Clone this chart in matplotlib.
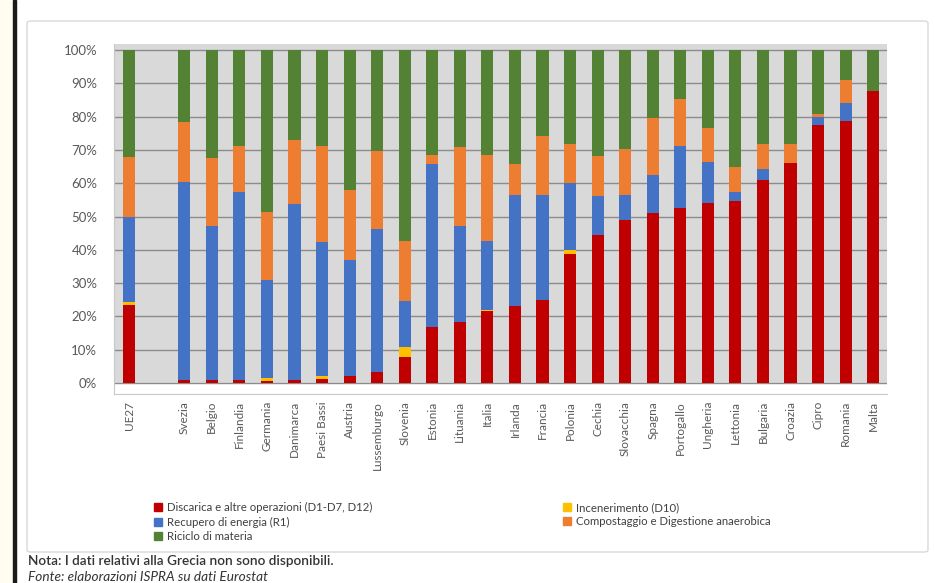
import numpy as np
import matplotlib
matplotlib.use('Agg')
import matplotlib.pyplot as plt
from matplotlib.patches import Patch, Rectangle, FancyBboxPatch

plt.rcParams['font.family'] = ['Lato', 'DejaVu Sans']

# dati (%)
paesi = ['UE27', 'Svezia', 'Belgio', 'Finlandia', 'Germania', 'Danimarca', 'Paesi Bassi',
         'Austria', 'Lussemburgo', 'Slovenia', 'Estonia', 'Lituania', 'Italia', 'Irlanda',
         'Francia', 'Polonia', 'Cechia', 'Slovacchia', 'Spagna', 'Portogallo', 'Ungheria',
         'Lettonia', 'Bulgaria', 'Croazia', 'Cipro', 'Romania', 'Malta']
posizioni = [0] + list(range(2, 28))

discarica = [23.5, 0.8, 0.8, 0.8, 0.6, 1.0, 1.2, 2.0, 3.4, 7.8, 16.7, 18.3, 21.5, 23.2,
             25.0, 38.7, 44.3, 49.0, 51.0, 52.5, 54.2, 54.7, 61.0, 66.2, 77.5, 78.6, 87.7]
incenerimento = [0.8, 0, 0, 0, 1.0, 0, 0.8, 0, 0, 3.0, 0, 0, 0.5, 0,
                 0, 1.3, 0, 0, 0, 0, 0, 0, 0, 0, 0, 0, 0]
recupero = [25.7, 59.5, 46.2, 56.6, 29.3, 52.9, 40.2, 35.0, 42.7, 13.7, 49.0, 28.7, 20.6, 33.2,
            31.4, 20.1, 11.8, 7.6, 11.5, 18.6, 12.2, 2.8, 3.2, 0, 2.4, 5.5, 0]
compostaggio = [18.0, 18.1, 20.6, 13.7, 20.6, 19.1, 28.9, 21.0, 23.5, 18.1, 2.9, 24.0, 26.0, 9.3,
                17.9, 11.8, 12.0, 13.8, 17.1, 14.2, 10.1, 7.4, 7.7, 5.7, 1.0, 6.9, 0]
riciclo = [32.0, 21.6, 32.4, 28.9, 48.5, 27.0, 28.9, 42.0, 30.4, 57.4, 31.4, 29.0, 31.4, 34.3,
           25.7, 28.1, 31.9, 29.6, 20.4, 14.7, 23.5, 35.1, 28.1, 28.1, 19.1, 9.0, 12.3]

serie = [
    ('Discarica e altre operazioni (D1-D7, D12)', discarica, '#c00000'),
    ('Incenerimento (D10)', incenerimento, '#ffc000'),
    ('Recupero di energia (R1)', recupero, '#4472c4'),
    ('Compostaggio e Digestione anaerobica', compostaggio, '#ed7d31'),
    ('Riciclo di materia', riciclo, '#548235'),
]

W, H = 935, 583
fig = plt.figure(figsize=(W / 100, H / 100), dpi=100)

# margine sinistro della pagina
fig.patches.append(Rectangle((0, 0), 13 / W, 1, transform=fig.transFigure,
                             color='#fffdf0', zorder=0))
fig.patches.append(Rectangle((13 / W, 0), 3 / W, 1, transform=fig.transFigure,
                             color='#1a1a1a', zorder=1))
# cornice del grafico
fig.patches.append(FancyBboxPatch((27 / W, 1 - 552 / H), (928 - 27) / W, (552 - 21) / H,
                                  boxstyle='round,pad=0,rounding_size=0.004',
                                  transform=fig.transFigure, facecolor='none',
                                  edgecolor='#d9d9d9', lw=1, zorder=1))

ax = fig.add_axes([114 / W, 1 - 394 / H, (887 - 114) / W, (394 - 44) / H])
ax.set_facecolor('#d9d9d9')
ax.axhspan(-3.3, 0, color='white', zorder=0.5)

x = np.array(posizioni)
base = np.zeros(len(paesi))
for nome, vals, col in serie:
    v = np.array(vals, dtype=float)
    ax.bar(x, v, bottom=base, width=0.44, color=col, zorder=3)
    base += v

ax.set_xlim(-0.55, 27.5)
ax.set_ylim(-3.3, 101.8)
ax.set_yticks(np.arange(0, 101, 10))
ax.set_yticklabels([f'{t}%' for t in range(0, 101, 10)])
ax.yaxis.grid(True, color='#8c8c8c', lw=1)
ax.set_axisbelow(True)
ax.set_xticks(x)
ax.set_xticklabels(paesi, rotation=90)
ax.tick_params(axis='y', length=0, pad=12, labelsize=9.5, labelcolor='#595959')
ax.tick_params(axis='x', length=0, pad=5, labelsize=8.5, labelcolor='#595959')
for s in ax.spines.values():
    s.set_color('#c8c8c8')
    s.set_linewidth(0.8)
ax.spines['top'].set_visible(False)
ax.spines['right'].set_visible(False)

# legenda
ordine = [0, 2, 4, 1, 3]
handles = [Patch(color=serie[i][2]) for i in ordine]
labels = [serie[i][0] for i in ordine]
fig.legend(handles, labels, loc='upper left', bbox_to_anchor=(154 / W, 1 - 502 / H),
           ncol=2, fontsize=8.2, frameon=False, handlelength=0.7, handleheight=0.7,
           handletextpad=0.4, labelspacing=0.3, columnspacing=16.8,
           labelcolor='#404040', borderaxespad=0, borderpad=0)

# testi
fig.text(28 / W, 1 - 561 / H, 'Nota: I dati relativi alla Grecia non sono disponibili.',
         fontsize=9.8, fontweight='semibold', color='#333333', va='center', ha='left')
fig.text(28 / W, 1 - 577 / H, 'Fonte: elaborazioni ISPRA su dati Eurostat',
         fontsize=9.8, style='italic', color='#333333', va='center', ha='left')

fig.savefig('out.png', dpi=100)
